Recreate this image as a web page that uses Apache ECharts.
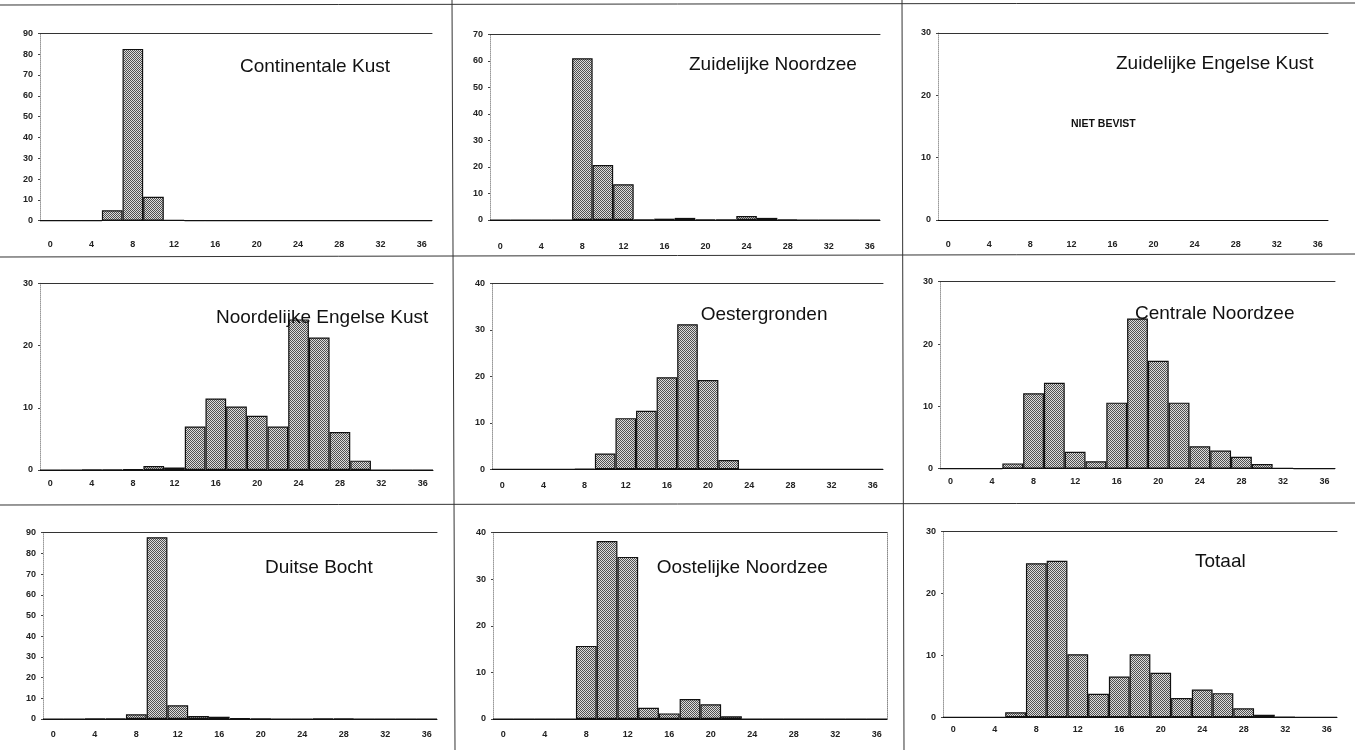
<!DOCTYPE html>
<html><head><meta charset="utf-8">
<script src="https://cdn.jsdelivr.net/npm/echarts@6/dist/echarts.min.js"></script>
<style>html,body{margin:0;padding:0;background:#fff}#c{width:1355px;height:750px}</style>
</head><body><div id="c"></div>
<script>
// ---- data ----
const lengthClasses = ['0','2','4','6','8','10','12','14','16','18','20','22','24','26','28','30','32','34','36'];
const continentaleKust     = [0,0,0,5,82.5,11.5,0.3,0.1,0,0,0,0,0,0,0,0,0,0,0];
const zuidelijkeNoordzee   = [0,0,0,0,61,20.7,13.5,0.2,0.5,0.8,0.2,0.2,1.5,0.8,0.2,0,0,0,0];
const zuidelijkeEngelseKust = []; // niet bevist
const noordelijkeEngelseKust = [0,0,0.05,0.05,0.1,0.65,0.4,7.0,11.5,10.2,8.7,7.0,24.2,21.3,6.1,1.5,0,0,0];
const oestergronden        = [0,0,0,0,0.1,3.4,11,12.6,19.8,31.2,19.2,2.0,0,0,0,0,0,0,0];
const centraleNoordzee     = [0,0,0,0.85,12.1,13.8,2.7,1.2,10.6,24.1,17.3,10.6,3.6,2.9,1.9,0.75,0.1,0,0];
const duitseBocht          = [0,0,0.2,0.2,2.25,87.8,6.6,1.45,1.1,0.4,0.1,0,0,0.2,0.2,0,0,0,0];
const oostelijkeNoordzee   = [0,0,0,0,15.7,38.2,34.8,2.4,1.2,4.3,3.15,0.6,0,0,0,0,0,0,0];
const totaal               = [0,0,0,0.8,24.9,25.3,10.2,3.8,6.6,10.2,7.2,3.1,4.5,3.9,1.45,0.4,0.1,0,0];
const panelTitles = ['Continentale Kust','Zuidelijke Noordzee','Zuidelijke Engelse Kust',
  'Noordelijke Engelse Kust','Oestergronden','Centrale Noordzee',
  'Duitse Bocht','Oostelijke Noordzee','Totaal'];
const panelValues = [continentaleKust, zuidelijkeNoordzee, zuidelijkeEngelseKust,
  noordelijkeEngelseKust, oestergronden, centraleNoordzee,
  duitseBocht, oostelijkeNoordzee, totaal];
const yMax = [90,70,30,30,40,30,90,40,30];
const yInterval = 10;
const notSampledText = 'NIET BEVIST';

// ---- layout ----
const layout = [
  {left:40,  top:33.3,  width:392, height:187.4, lm:19,  tx:240,  ty:66.7},
  {left:490, top:34.3,  width:390, height:185.7, lm:22,  tx:689,  ty:65},
  {left:938, top:33,    width:390, height:187,   lm:20,  tx:1116, ty:63.3},
  {left:40,  top:283.3, width:393, height:186.7, lm:9,   tx:216,  ty:318},
  {left:492, top:283.3, width:391, height:186,   lm:12,  tx:700.7,ty:315},
  {left:940, top:281.7, width:395, height:187,   lm:8.5, tx:1135, ty:313.3},
  {left:43,  top:532.7, width:394, height:186.3, lm:11.5,tx:265,  ty:567.3},
  {left:493, top:532.7, width:394, height:186.3, lm:11.5,tx:656.7,ty:567.3},
  {left:943, top:531.7, width:394, height:185.6, lm:8,   tx:1195, ty:561.7}
];
const FONT = '"Liberation Sans", Arial, sans-serif';

// stipple pattern
const pc = document.createElement('canvas'); pc.width = 2; pc.height = 2;
const g = pc.getContext('2d');
g.fillStyle = '#dcdcdc'; g.fillRect(0,0,2,2);
g.fillStyle = '#505050'; g.fillRect(0,0,1,1); g.fillRect(1,1,1,1);
const pattern = {image: pc, repeat: 'repeat'};

const grids = [], xAxes = [], yAxes = [], series = [], graphics = [];
layout.forEach((L, i) => {
  grids.push({left:L.left, top:L.top, width:L.width, height:L.height, containLabel:false});
  yAxes.push({gridIndex:i, type:'value', min:0, max:yMax[i], interval:yInterval,
    splitLine:{show:false},
    axisLine:{show:true, lineStyle:{color:'#9a9a9a', type:'dotted', width:1}},
    axisTick:{show:true, length:2, lineStyle:{color:'#444'}},
    axisLabel:{fontSize:9, fontWeight:'bold', color:'#222', margin:7, fontFamily:FONT}});
  series.push({type:'bar', xAxisIndex:i, yAxisIndex:i, data:panelValues[i],
    barCategoryGap:'0%', silent:true,
    itemStyle:{color:pattern, borderColor:'#111', borderWidth:1.2}});
  graphics.push({type:'text', z:100, style:{text:panelTitles[i], x:L.tx, y:L.ty,
    verticalAlign:'middle', font:'19px ' + FONT, fill:'#111'}});
});
layout.forEach((L, i) => {
  xAxes.push({gridIndex:i, type:'category', data:lengthClasses, boundaryGap:true, position:'bottom',
    axisLine:{onZero:false, lineStyle:{color:'#111', width:1}},
    axisTick:{show:false},
    axisLabel:{interval:1, fontSize:9, fontWeight:'bold', color:'#222', margin:L.lm, fontFamily:FONT}});
});
layout.forEach((L, i) => {
  xAxes.push({gridIndex:i, type:'category', data:lengthClasses, boundaryGap:true, position:'top',
    axisLine:{onZero:false, lineStyle:{color:'#333', width:1}},
    axisTick:{show:false}, axisLabel:{show:false}});
});
// right dotted border for Oostelijke Noordzee
yAxes.push({gridIndex:7, type:'value', min:0, max:yMax[7], interval:yInterval, position:'right',
  splitLine:{show:false}, axisLabel:{show:false}, axisTick:{show:false},
  axisLine:{show:true, lineStyle:{color:'#888', type:'dotted'}}});

graphics.push({type:'text', z:100, style:{text:notSampledText, x:1071, y:124,
  verticalAlign:'middle', font:'bold 10.5px ' + FONT, fill:'#111'}});
// panel separators
const sep = [[0,5,1355,3],[0,257,1355,254],[0,505,1355,503],[452,0,455,750],[902,0,904,750]];
sep.forEach(s => graphics.push({type:'line', z:90, shape:{x1:s[0],y1:s[1],x2:s[2],y2:s[3]},
  style:{stroke:'#333', lineWidth:1}}));

const chart = echarts.init(document.getElementById('c'), null, {renderer:'canvas'});
chart.setOption({animation:false, backgroundColor:'#fff',
  grid:grids, xAxis:xAxes, yAxis:yAxes, series:series, graphic:graphics});
</script></body></html>
